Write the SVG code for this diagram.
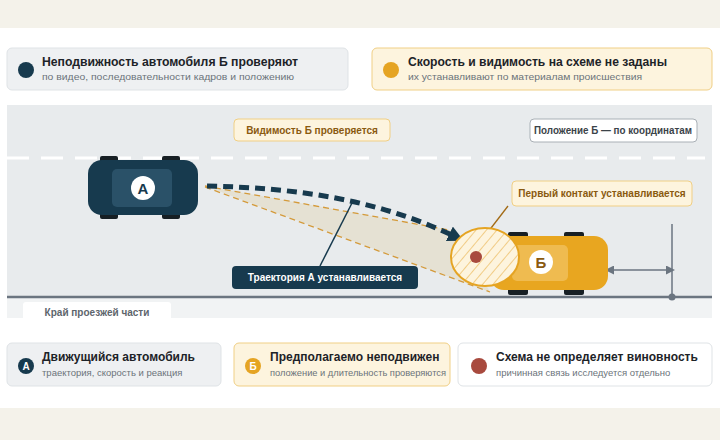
<svg xmlns="http://www.w3.org/2000/svg" width="720" height="440" viewBox="0 0 720 440">
<defs>
<style>
text{font-family:"Liberation Sans",Arial,sans-serif}
.t{font-size:12px;font-weight:bold;fill:#1d2328}
.s{font-size:9.5px;fill:#6b737a}
.lb{font-size:10px;font-weight:bold}
.wh{fill:#171f24}
</style>
<pattern id="hatch" width="8" height="8" patternUnits="userSpaceOnUse" patternTransform="rotate(40)">
<rect width="8" height="8" fill="#fdf4de"/><line x1="0" y1="0" x2="0" y2="8" stroke="#eab14a" stroke-width="1.2"/>
</pattern>
<marker id="arr" viewBox="0 0 10 10" refX="6" refY="5" markerWidth="3.2" markerHeight="3.2" orient="auto"><path d="M0,0L10,5L0,10z" fill="#173a4e"/></marker>
<marker id="tri" viewBox="0 0 10 10" refX="0" refY="5" markerWidth="6" markerHeight="6" orient="auto-start-reverse"><path d="M0,0L10,5L0,10z" fill="#6b7580"/></marker>
</defs>
<rect width="720" height="440" fill="#f4f2ea"/>
<rect x="0" y="28" width="720" height="380" fill="#fff"/>
<g id="note-left"><rect x="7" y="48" width="341" height="42" rx="5" fill="#eef0f2" stroke="#dfe3e6"/><circle cx="26" cy="70" r="8" fill="#173a4e"/><text class="t" x="42" y="66" textLength="256" lengthAdjust="spacingAndGlyphs">Неподвижность автомобиля Б проверяют</text><text class="s" x="42" y="80" textLength="252" lengthAdjust="spacingAndGlyphs">по видео, последовательности кадров и положению</text></g>
<g id="note-right"><rect x="372" y="48" width="340" height="42" rx="5" fill="#fdf4de" stroke="#f0cf85"/><circle cx="391" cy="70" r="8" fill="#e5a423"/><text class="t" x="408" y="66" textLength="259" lengthAdjust="spacingAndGlyphs">Скорость и видимость на схеме не заданы</text><text class="s" x="408" y="80" textLength="234" lengthAdjust="spacingAndGlyphs">их устанавливают по материалам происшествия</text></g>
<g id="scene">
<rect x="7" y="105" width="705" height="213" fill="#e8ebed"/>
<rect x="7" y="297" width="705" height="21" fill="#f1f3f4"/>
<line x1="7" y1="158" x2="705" y2="158" stroke="#fff" stroke-width="3" stroke-dasharray="22 12"/>
<line x1="7" y1="297" x2="712" y2="297" stroke="#6b7580" stroke-width="2.5"/>
<rect x="23" y="302" width="148" height="20" rx="3" fill="#fff"/><text class="lb" x="97" y="316" text-anchor="middle" fill="#5d656c">Край проезжей части</text>
</g>
<g id="connectors">
<path d="M205,186 L455,231 L490,292 Z" fill="#e4dfcc" opacity="0.8"/>
<line x1="205" y1="186" x2="455" y2="231" stroke="#d49a3a" stroke-width="1.3" stroke-dasharray="6 4"/>
<line x1="205" y1="187" x2="490" y2="292" stroke="#d49a3a" stroke-width="1.3" stroke-dasharray="6 4"/>
<path d="M207,186 C300,188 380,200 458,238" fill="none" stroke="#173a4e" stroke-width="5" stroke-dasharray="10 6" marker-end="url(#arr)"/>
<line x1="352" y1="203" x2="320" y2="266" stroke="#173a4e" stroke-width="1.5"/>
<line x1="508" y1="206" x2="488" y2="232" stroke="#a26a15" stroke-width="1.3"/>
<line x1="672" y1="224" x2="672" y2="297" stroke="#6b7580" stroke-width="1.5"/>
<circle cx="672" cy="297" r="3.5" fill="#6b7580"/>
<line x1="614" y1="270" x2="666" y2="270" stroke="#6b7580" stroke-width="1.5" marker-start="url(#tri)" marker-end="url(#tri)"/>
</g>
<g id="car-a">
<rect x="100" y="156" width="18" height="8" rx="2" class="wh"/><rect x="162" y="156" width="18" height="8" rx="2" class="wh"/>
<rect x="100" y="211" width="18" height="8" rx="2" class="wh"/><rect x="162" y="211" width="18" height="8" rx="2" class="wh"/>
<rect x="88" y="160" width="110" height="55" rx="14" fill="#173a4e"/>
<rect x="112" y="169" width="60" height="38" rx="5" fill="#2a5168"/>
<circle cx="143" cy="188" r="12" fill="#fff"/><text x="143" y="194" text-anchor="middle" font-size="15" font-weight="bold" fill="#173a4e">А</text>
</g>
<g id="car-b">
<rect x="508" y="232" width="20" height="8" rx="2" class="wh"/><rect x="564" y="232" width="20" height="8" rx="2" class="wh"/>
<rect x="508" y="287" width="20" height="8" rx="2" class="wh"/><rect x="564" y="287" width="20" height="8" rx="2" class="wh"/>
<rect x="490" y="236" width="118" height="54" rx="14" fill="#e8a620"/>
<rect x="512" y="245" width="56" height="36" rx="5" fill="#efbb50"/>
<circle cx="541" cy="262" r="12" fill="#fff"/><text x="541" y="268" text-anchor="middle" font-size="15" font-weight="bold" fill="#8a5a10">Б</text>
</g>
<g id="contact"><ellipse cx="485" cy="257" rx="34" ry="29" fill="url(#hatch)" stroke="#e5a423" stroke-width="2"/><circle cx="476" cy="257" r="6" fill="#a84a3e"/></g>
<g id="label-visibility"><rect x="234" y="119" width="156" height="22" rx="4" fill="#fdf4de" stroke="#f0cf85"/><text class="lb" x="312" y="134" text-anchor="middle" fill="#8a5a10">Видимость Б проверяется</text></g>
<g id="label-position"><rect x="530" y="119" width="167" height="23" rx="4" fill="#fff" stroke="#a9b0b6"/><text class="lb" x="613" y="134" text-anchor="middle" fill="#3b4349" textLength="158" lengthAdjust="spacingAndGlyphs">Положение Б — по координатам</text></g>
<g id="label-contact"><rect x="512" y="181" width="180" height="25" rx="4" fill="#fdf4de" stroke="#f0cf85"/><text class="lb" x="602" y="197" text-anchor="middle" fill="#8a5a10">Первый контакт устанавливается</text></g>
<g id="label-trajectory"><rect x="232" y="266" width="186" height="23" rx="4" fill="#173a4e"/><text class="lb" x="325" y="281" text-anchor="middle" fill="#fff">Траектория А устанавливается</text></g>
<g id="legend-a"><rect x="7" y="343" width="214" height="43" rx="5" fill="#eef0f2" stroke="#dfe3e6"/><circle cx="26" cy="366" r="8" fill="#173a4e"/><text x="26" y="370" text-anchor="middle" font-size="10" font-weight="bold" fill="#fff">А</text><text class="t" x="42" y="361">Движущийся автомобиль</text><text class="s" x="42" y="376">траектория, скорость и реакция</text></g>
<g id="legend-b"><rect x="234" y="343" width="216" height="43" rx="5" fill="#fdf4de" stroke="#f0cf85"/><circle cx="253" cy="366" r="8" fill="#e5a423"/><text x="253" y="370" text-anchor="middle" font-size="10" font-weight="bold" fill="#fff">Б</text><text class="t" x="270" y="361">Предполагаемо неподвижен</text><text class="s" x="270" y="376" textLength="176" lengthAdjust="spacingAndGlyphs">положение и длительность проверяются</text></g>
<g id="legend-c"><rect x="458" y="343" width="254" height="43" rx="5" fill="#fff" stroke="#dfe3e6"/><circle cx="479" cy="366" r="8" fill="#a84a3e"/><text class="t" x="496" y="361">Схема не определяет виновность</text><text class="s" x="496" y="376">причинная связь исследуется отдельно</text></g>
</svg>
